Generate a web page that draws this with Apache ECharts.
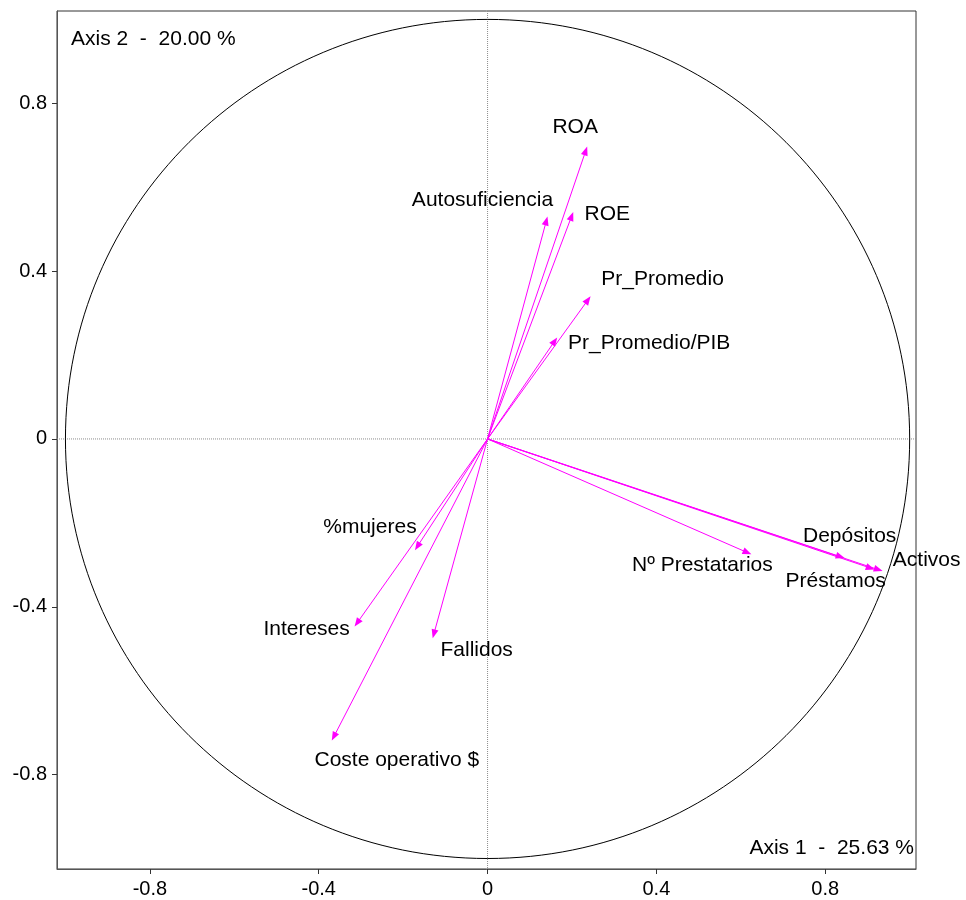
<!DOCTYPE html>
<html>
<head>
<meta charset="utf-8">
<script src="https://cdn.jsdelivr.net/npm/echarts@6/dist/echarts.min.js"></script>
<style>
  html, body { margin: 0; padding: 0; background: #fff; }
  #chart { width: 966px; height: 900px; }
</style>
</head>
<body>
<div id="chart"></div>
<script>
// Correlation circle: variable loadings on the first two principal axes
const variables = ['ROA', 'ROE', 'Autosuficiencia', 'Pr_Promedio', 'Pr_Promedio/PIB',
  'Depósitos', 'Activos', 'Préstamos', 'Nº Prestatarios',
  '%mujeres', 'Intereses', 'Fallidos', 'Coste operativo $'];
const axis1 = [0.236, 0.203, 0.142, 0.244, 0.165, 0.846, 0.936, 0.917, 0.625, -0.172, -0.315, -0.130, -0.369];
const axis2 = [0.697, 0.541, 0.530, 0.340, 0.242, -0.284, -0.315, -0.311, -0.275, -0.265, -0.447, -0.475, -0.719];

const tickValues = [-0.8, -0.4, 0, 0.4, 0.8];
const axis1Title = 'Axis 1  -  25.63 %';
const axis2Title = 'Axis 2  -  20.00 %';
const circleRadius = 1;

// where each variable name sits, relative to its arrow tip (px, centre of text)
const labelShift = {
  'ROA': [-12, -19],
  'ROE': [34, 2],
  'Autosuficiencia': [-65, -16],
  'Pr_Promedio': [72, -17],
  'Pr_Promedio/PIB': [92, 6],
  'Depósitos': [5, -22],
  'Activos': [44, -11],
  'Préstamos': [-39, 12],
  'Nº Prestatarios': [-49, 11],
  '%mujeres': [-45, -23],
  'Intereses': [-48, 3],
  'Fallidos': [44, 12],
  'Coste operativo $': [65, 20]
};

const FONT = '"Liberation Sans", Arial, sans-serif';
const MAGENTA = '#ff00ff';

const xMin = -1.02, xMax = 1.015, yMin = -1.025, yMax = 1.02;

const chart = echarts.init(document.getElementById('chart'), null, { renderer: 'canvas' });

const arrowData = variables.map((name, i) => ({ name: name, value: [axis1[i], axis2[i]] }));

const option = {
  animation: false,
  backgroundColor: '#fff',
  grid: {
    left: 57, right: 50, top: 11, bottom: 31,
    outerBoundsMode: 'none',
    show: true, borderColor: '#333', borderWidth: 1, backgroundColor: 'transparent'
  },
  xAxis: {
    type: 'value', min: xMin, max: xMax,
    axisLine: { show: true, onZero: false, lineStyle: { color: '#555', width: 1 } },
    axisTick: { show: true, customValues: tickValues, length: 5, lineStyle: { color: '#333' } },
    axisLabel: { customValues: tickValues, color: '#000', fontSize: 20, fontFamily: FONT, margin: 10 },
    splitLine: { show: false }
  },
  yAxis: {
    type: 'value', min: yMin, max: yMax,
    axisLine: { show: true, onZero: false, lineStyle: { color: '#555', width: 1 } },
    axisTick: { show: true, customValues: tickValues, length: 5, lineStyle: { color: '#333' } },
    axisLabel: { customValues: tickValues, color: '#000', fontSize: 20, fontFamily: FONT, margin: 10 },
    splitLine: { show: false }
  },
  graphic: [
    { type: 'text', x: 71, y: 39, style: { text: axis2Title, font: '21px ' + FONT, fill: '#000', align: 'left', verticalAlign: 'middle' } },
    { type: 'text', x: 914, y: 848, style: { text: axis1Title, font: '21px ' + FONT, fill: '#000', align: 'right', verticalAlign: 'middle' } }
  ],
  series: [
    {
      // unit circle and the two dotted zero lines
      type: 'custom',
      silent: true,
      data: [[0, 0, circleRadius]],
      renderItem: function (params, api) {
        const c = api.coord([api.value(0), api.value(1)]);
        const r = api.value(2);
        const sz = api.size([r, r]);
        const left = api.coord([xMin, 0]);
        const right = api.coord([xMax, 0]);
        const top = api.coord([0, yMax]);
        const bottom = api.coord([0, yMin]);
        const dot = { stroke: '#8c8c8c', lineWidth: 1, lineDash: [1, 1] };
        return {
          type: 'group',
          children: [
            { type: 'line', shape: { x1: left[0], y1: left[1], x2: right[0], y2: right[1] }, style: dot },
            { type: 'line', shape: { x1: top[0], y1: top[1], x2: bottom[0], y2: bottom[1] }, style: dot },
            { type: 'ellipse', shape: { cx: c[0], cy: c[1], rx: sz[0], ry: sz[1] }, style: { fill: 'none', stroke: '#000', lineWidth: 1 } }
          ]
        };
      }
    },
    {
      // one arrow per variable, from the origin to its loading
      type: 'custom',
      silent: true,
      data: arrowData,
      renderItem: function (params, api) {
        const name = variables[params.dataIndex];
        const o = api.coord([0, 0]);
        const p = api.coord([api.value(0), api.value(1)]);
        const dx = p[0] - o[0], dy = p[1] - o[1];
        const len = Math.hypot(dx, dy);
        const ux = dx / len, uy = dy / len;
        const L = 9, W = 3.5;
        const bx = p[0] - ux * L, by = p[1] - uy * L;
        const head = [[p[0], p[1]], [bx - uy * W, by + ux * W], [bx + uy * W, by - ux * W]];
        const s = labelShift[name] || [0, 0];
        return {
          type: 'group',
          children: [
            { type: 'line', shape: { x1: o[0], y1: o[1], x2: bx + ux, y2: by + uy }, style: { stroke: MAGENTA, lineWidth: 1 } },
            { type: 'polygon', shape: { points: head }, style: { fill: MAGENTA } },
            { type: 'text', x: p[0] + s[0], y: p[1] + s[1],
              style: { text: name, font: '21px ' + FONT, fill: '#000', align: 'center', verticalAlign: 'middle' } }
          ]
        };
      }
    }
  ]
};

chart.setOption(option);
</script>
</body>
</html>
